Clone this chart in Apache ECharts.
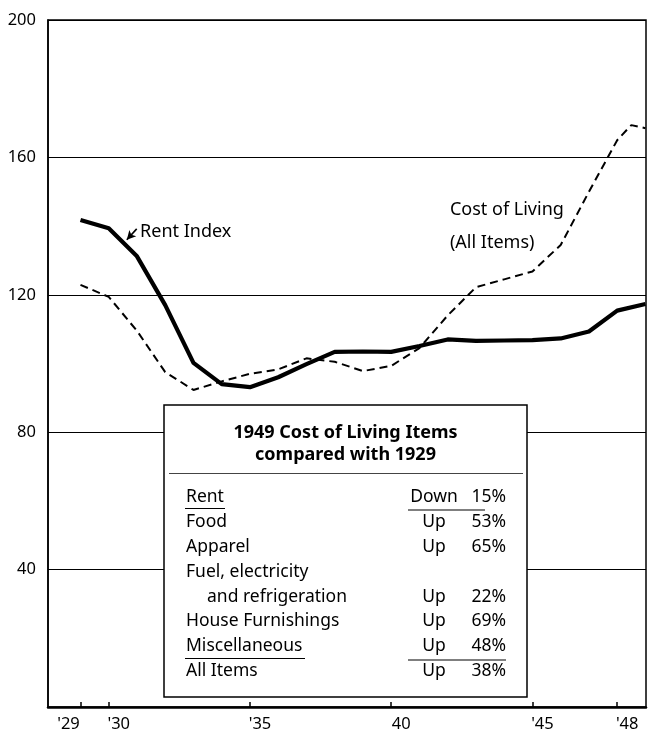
<!DOCTYPE html>
<html>
<head>
<meta charset="utf-8">
<script src="https://cdn.jsdelivr.net/npm/echarts@6/dist/echarts.min.js"></script>
<style>
  html, body { margin: 0; padding: 0; background: #fff; }
  #chart { width: 662px; height: 745px; }
</style>
</head>
<body>
<div id="chart"></div>
<script>
// Index values, 1929-1949
const rentYears = [1929, 1930, 1931, 1932, 1933, 1934, 1935, 1936, 1937, 1938, 1939,
                   1940, 1941, 1942, 1943, 1944, 1945, 1946, 1947, 1948, 1949];
const rentIndex = [141.8, 139.4, 131.2, 117.0, 100.2, 94.0, 93.1, 96.0, 99.8, 103.4, 103.5,
                   103.4, 105.1, 107.0, 106.6, 106.7, 106.8, 107.3, 109.3, 115.4, 117.3];

const costYears = [1929, 1930, 1931, 1932, 1933, 1934, 1935, 1936, 1937, 1938, 1939,
                   1940, 1941, 1942, 1943, 1944, 1945, 1946, 1947, 1948, 1948.5, 1949];
const costOfLiving = [122.9, 119.4, 109.5, 97.5, 92.3, 94.8, 97.0, 98.3, 101.5, 100.5, 97.8,
                      99.3, 104.5, 114.0, 122.2, 124.5, 126.8, 134.5, 150.0, 165.0, 169.4, 168.5];

// Axis ticks and their labels
const yearTicks = [1929, 1930, 1935, 1940, 1945, 1948];
const yearTickLabels = ["'29", "'30", "'35", "40", "'45", "'48"];
const valueTicks = [0, 40, 80, 120, 160, 200];

// Inset table
const tableTitle = ['1949 Cost of Living Items', 'compared with 1929'];
const tableItems = ['Rent', 'Food', 'Apparel', 'Fuel, electricity', 'and refrigeration',
                    'House Furnishings', 'Miscellaneous', 'All Items'];
const tableDirection = ['Down', 'Up', 'Up', '', 'Up', 'Up', 'Up', 'Up'];
const tablePercent = ['15%', '53%', '65%', '', '22%', '69%', '48%', '38%'];

const FONT = '"Noto Sans", sans-serif';
const chart = echarts.init(document.getElementById('chart'), null, { renderer: 'canvas' });

const zip = (xs, ys) => xs.map((x, i) => [x, ys[i]]);

chart.setOption({
  animation: false,
  backgroundColor: '#fff',
  grid: {
    left: 48, right: 16, top: 20, bottom: 38,
    show: true, borderColor: '#000', borderWidth: 1.5, backgroundColor: 'transparent'
  },
  xAxis: {
    type: 'value',
    min: 1927.85,
    max: 1949.02,
    axisLine: { show: true, lineStyle: { color: '#000', width: 2.5 } },
    axisTick: {
      show: true, inside: true, length: 5,
      customValues: yearTicks,
      lineStyle: { color: '#000', width: 1.5 }
    },
    axisLabel: {
      customValues: yearTicks,
      margin: 9,
      color: '#000',
      fontFamily: FONT,
      fontSize: 16.5,
      formatter: function (v) {
        const i = yearTicks.indexOf(Math.round(v));
        if (i < 0) return '';
        return (i === 0 ? '{l|' : '{r|') + yearTickLabels[i] + '}';
      },
      rich: {
        l: { fontFamily: FONT, fontSize: 16.5, color: '#000', padding: [0, 24, 0, 0] },
        r: { fontFamily: FONT, fontSize: 16.5, color: '#000', padding: [0, 0, 0, 20] }
      }
    },
    splitLine: { show: false }
  },
  yAxis: {
    type: 'value',
    min: 0,
    max: 200,
    interval: 40,
    axisLine: { show: true, lineStyle: { color: '#000', width: 1.5 } },
    axisTick: { show: false },
    axisLabel: {
      color: '#000', fontFamily: FONT, fontSize: 16.5, margin: 12,
      padding: [0, 0, 9, 0],
      formatter: v => (valueTicks.includes(v) && v !== 0 ? String(v) : '')
    },
    splitLine: { show: true, lineStyle: { color: '#000', width: 1 } }
  },
  series: [
    {
      name: 'Cost of Living (All Items)',
      type: 'line',
      data: zip(costYears, costOfLiving),
      symbol: 'none',
      z: 3,
      lineStyle: { color: '#000', width: 2, type: [8, 5] }
    },
    {
      name: 'Rent Index',
      type: 'line',
      data: zip(rentYears, rentIndex),
      symbol: 'none',
      z: 4,
      lineStyle: { color: '#000', width: 4.2, join: 'round' },
      markLine: {
        silent: true,
        symbol: ['none', 'arrow'],
        symbolSize: [7, 9],
        label: { show: false },
        lineStyle: { color: '#000', width: 1.6, type: 'solid' },
        data: [[{ coord: [1930.99, 139.2] }, { coord: [1930.64, 136.0] }]]
      }
    }
  ]
});

// Text annotations anchored to data coordinates
const px = (x, y) => chart.convertToPixel({ gridIndex: 0 }, [x, y]);
const rentLabelPos = px(1931.11, 138.3);
const costLabelPos1 = px(1942.08, 144.7);
const costLabelPos2 = px(1942.08, 135.1);

// Inset table layout
const box = { x: 164, y: 405, w: 363, h: 292 };
const cx = box.x + box.w / 2;
const rowTop = 497, rowStep = 24.9;
const labelX = 186, indentX = 207, dirX = 434, pctX = 506;
const ROW_FONT = '17.5px ' + FONT;

const tableEls = [];
tableEls.push({
  type: 'rect',
  shape: { x: box.x, y: box.y, width: box.w, height: box.h },
  style: { fill: '#fff', stroke: '#000', lineWidth: 1.5 },
  z: 10
});
tableTitle.forEach((t, i) => {
  tableEls.push({
    type: 'text', z: 11,
    x: cx, y: 433 + i * 22,
    style: { text: t, fill: '#000', font: 'bold 18px ' + FONT, align: 'center', verticalAlign: 'middle' }
  });
});
tableEls.push({
  type: 'line', z: 11,
  shape: { x1: 169, y1: 473.5, x2: 523, y2: 473.5 },
  style: { stroke: '#444', lineWidth: 1 }
});
tableItems.forEach((t, i) => {
  const y = rowTop + i * rowStep;
  tableEls.push({
    type: 'text', z: 11,
    x: i === 4 ? indentX : labelX, y: y,
    style: { text: t, fill: '#000', font: ROW_FONT, align: 'left', verticalAlign: 'middle' }
  });
  if (tableDirection[i]) {
    tableEls.push({
      type: 'text', z: 11, x: dirX, y: y,
      style: { text: tableDirection[i], fill: '#000', font: ROW_FONT, align: 'center', verticalAlign: 'middle' }
    });
  }
  if (tablePercent[i]) {
    tableEls.push({
      type: 'text', z: 11, x: pctX, y: y,
      style: { text: tablePercent[i], fill: '#000', font: ROW_FONT, align: 'right', verticalAlign: 'middle' }
    });
  }
});
// Underlines marking the first and last component rows
[[185, 508.5, 225], [408, 510, 485], [185, 658.5, 305], [408, 660, 506]].forEach(u => {
  tableEls.push({
    type: 'line', z: 11,
    shape: { x1: u[0], y1: u[1], x2: u[2], y2: u[1] },
    style: { stroke: '#000', lineWidth: 1.2 }
  });
});

const NOTE_FONT = '18px ' + FONT;
chart.setOption({
  graphic: [
    {
      type: 'text', z: 12,
      x: rentLabelPos[0], y: rentLabelPos[1],
      style: { text: 'Rent Index', fill: '#000', font: NOTE_FONT, align: 'left', verticalAlign: 'middle' }
    },
    {
      type: 'text', z: 12,
      x: costLabelPos1[0], y: costLabelPos1[1],
      style: { text: 'Cost of Living', fill: '#000', font: NOTE_FONT, align: 'left', verticalAlign: 'middle' }
    },
    {
      type: 'text', z: 12,
      x: costLabelPos2[0], y: costLabelPos2[1],
      style: { text: '(All Items)', fill: '#000', font: NOTE_FONT, align: 'left', verticalAlign: 'middle' }
    },
    { type: 'group', children: tableEls }
  ]
});
</script>
</body>
</html>
